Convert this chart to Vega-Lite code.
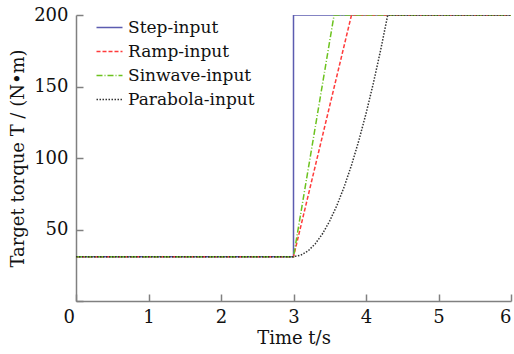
{
  "$schema": "https://vega.github.io/schema/vega-lite/v6.json",
  "width": 435,
  "height": 286,
  "autosize": {"type": "none"},
  "padding": {"left": 76, "top": 15, "right": 3, "bottom": 53},
  "background": "white",
  "config": {
    "view": {"stroke": null},
    "font": "DejaVu Serif",
    "axis": {
      "grid": false,
      "domainColor": "#808080",
      "domainWidth": 1.5,
      "tickColor": "#808080",
      "tickWidth": 1.5,
      "tickSize": -7,
      "labelFont": "DejaVu Serif",
      "labelFontSize": 18,
      "labelColor": "#111",
      "titleFont": "DejaVu Serif",
      "titleFontSize": 18,
      "titleFontWeight": "normal",
      "titleColor": "#111"
    }
  },
  "data": {
    "values": [
      {"s": "Step-input", "t": 0, "T": 31, "o": 0},
      {"s": "Step-input", "t": 3, "T": 31, "o": 1},
      {"s": "Step-input", "t": 3, "T": 200, "o": 2},
      {"s": "Step-input", "t": 6, "T": 200, "o": 3},
      {"s": "Ramp-input", "t": 0, "T": 31, "o": 0},
      {"s": "Ramp-input", "t": 3, "T": 31, "o": 1},
      {"s": "Ramp-input", "t": 3.8, "T": 200, "o": 2},
      {"s": "Ramp-input", "t": 6, "T": 200, "o": 3},
      {"s": "Sinwave-input", "t": 0, "T": 31, "o": 0},
      {"s": "Sinwave-input", "t": 3, "T": 31, "o": 1},
      {"s": "Sinwave-input", "t": 3.56, "T": 200, "o": 2},
      {"s": "Sinwave-input", "t": 6, "T": 200, "o": 3},
      {"s": "Parabola-input", "t": 0, "T": 31, "o": 0},
      {"s": "Parabola-input", "t": 3, "T": 31, "o": 1},
      {"s": "Parabola-input", "t": 3.1, "T": 32, "o": 2},
      {"s": "Parabola-input", "t": 3.2, "T": 35, "o": 3},
      {"s": "Parabola-input", "t": 3.3, "T": 40, "o": 4},
      {"s": "Parabola-input", "t": 3.4, "T": 47, "o": 5},
      {"s": "Parabola-input", "t": 3.5, "T": 56, "o": 6},
      {"s": "Parabola-input", "t": 3.6, "T": 67, "o": 7},
      {"s": "Parabola-input", "t": 3.7, "T": 80, "o": 8},
      {"s": "Parabola-input", "t": 3.8, "T": 95, "o": 9},
      {"s": "Parabola-input", "t": 3.9, "T": 112, "o": 10},
      {"s": "Parabola-input", "t": 4.0, "T": 131, "o": 11},
      {"s": "Parabola-input", "t": 4.1, "T": 152, "o": 12},
      {"s": "Parabola-input", "t": 4.2, "T": 175, "o": 13},
      {"s": "Parabola-input", "t": 4.3, "T": 200, "o": 14},
      {"s": "Parabola-input", "t": 6, "T": 200, "o": 15}
    ]
  },
  "mark": {"type": "line", "strokeWidth": 1.5, "clip": true},
  "encoding": {
    "x": {
      "field": "t", "type": "quantitative",
      "scale": {"domain": [0, 6], "nice": false},
      "axis": {
        "title": "Time t/s",
        "values": [0, 1, 2, 3, 4, 5, 6],
        "labelPadding": 14,
        "titlePadding": 3,
        "labelOffset": {"condition": {"test": "datum.value === 0", "value": -13}, "value": 0}
      }
    },
    "y": {
      "field": "T", "type": "quantitative",
      "scale": {"domain": [0, 200], "nice": false},
      "axis": {
        "title": "Target torque T / (N•m)",
        "values": [0, 50, 100, 150, 200],
        "labelExpr": "datum.value === 0 ? '' : datum.label",
        "labelPadding": 15,
        "titlePadding": 6
      }
    },
    "order": {"field": "o", "type": "quantitative"},
    "color": {
      "field": "s", "type": "nominal",
      "scale": {
        "domain": ["Step-input", "Ramp-input", "Sinwave-input", "Parabola-input"],
        "range": ["#5c5cb0", "#ff3b3b", "#6cc21e", "#333333"]
      },
      "legend": {
        "title": null,
        "orient": "none",
        "legendX": 17,
        "legendY": 4,
        "padding": 0,
        "symbolType": "M-1,0H4.2",
        "symbolSize": 100,
        "symbolStrokeWidth": 1.5,
        "symbolFillColor": "transparent",
        "labelFont": "DejaVu Serif",
        "labelFontSize": 17,
        "labelColor": "#111",
        "labelOffset": 18,
        "rowPadding": 6
      }
    },
    "strokeDash": {
      "field": "s", "type": "nominal",
      "scale": {
        "domain": ["Step-input", "Ramp-input", "Sinwave-input", "Parabola-input"],
        "range": [[1, 0], [4, 2], [6, 2, 1, 2], [1.5, 1.5]]
      },
      "legend": null
    }
  }
}
